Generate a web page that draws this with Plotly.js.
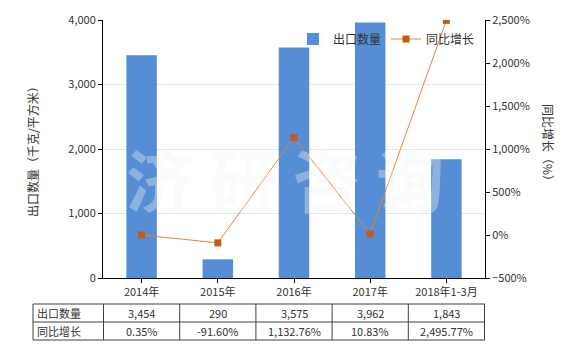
<!DOCTYPE html>
<html><head><meta charset="utf-8">
<script src="https://cdn.plot.ly/plotly-3.0.1.min.js"></script>
<style>html,body{margin:0;padding:0;background:#fff}#chart{width:580px;height:350px}</style>
</head><body><div id="chart"></div>
<script>
const categories = ['2014年','2015年','2016年','2017年','2018年1-3月'];
const exportQty = [3454, 290, 3575, 3962, 1843];
const yoyGrowth = [0.35, -91.60, 1132.76, 10.83, 2495.77];
const seriesNames = ['出口数量','同比增长'];
const leftTitle = '出口数量（千克/平方米）';
const rightTitle = '同比增长（%）';
const watermark = '济 研 咨 询';

const FONT = '"Noto Sans CJK SC", "Microsoft YaHei", sans-serif';
const txt = '#333333';
const border = '#404040';

const L = 103, R = 485, T = 20, B = 278;
const H = B - T, W = R - L;
const py = v => (B - v) / H;
const px = v => (v - L) / W;

const tTop = py(304), tMid = py(322), tBot = py(340);
const shapes = [];
const annotations = [];
[tTop, tMid, tBot].forEach(y => shapes.push({type:'line', xref:'paper', yref:'paper', x0:px(33), x1:1, y0:y, y1:y, line:{color:border,width:1}}));
shapes.push({type:'line', xref:'paper', yref:'paper', x0:px(33), x1:px(33), y0:tTop, y1:tBot, line:{color:border,width:1}});
for (let i = 0; i <= categories.length; i++) {
  shapes.push({type:'line', xref:'x', yref:'paper', x0:i-0.5, x1:i-0.5, y0:tTop, y1:tBot, line:{color:border,width:1}});
}
const rowY = [(tTop+tMid)/2, (tMid+tBot)/2];
seriesNames.forEach((n, r) => annotations.push({xref:'paper', yref:'paper', x:px(35), y:rowY[r], xanchor:'left', yanchor:'middle', text:n, showarrow:false, font:{size:11, color:txt}}));
categories.forEach((c, i) => {
  annotations.push({xref:'x', yref:'paper', x:i, y:rowY[0], text:exportQty[i].toLocaleString('en-US'), showarrow:false, yanchor:'middle', font:{size:11, color:txt}});
  annotations.push({xref:'x', yref:'paper', x:i, y:rowY[1], text:yoyGrowth[i].toLocaleString('en-US',{minimumFractionDigits:2, maximumFractionDigits:2})+'%', showarrow:false, yanchor:'middle', font:{size:11, color:txt}});
});
annotations.push({xref:'paper', yref:'paper', x:px(32), y:py(149), text:leftTitle, textangle:-90, showarrow:false, xanchor:'center', yanchor:'middle', font:{size:12, color:txt}});
annotations.push({xref:'paper', yref:'paper', x:px(549), y:py(145), text:rightTitle, textangle:90, showarrow:false, xanchor:'center', yanchor:'middle', font:{size:12, color:txt}});
annotations.push({xref:'paper', yref:'paper', x:px(285), y:py(177), text:watermark, showarrow:false, xanchor:'center', yanchor:'middle', font:{size:68, color:'rgba(240,245,245,0.36)', family:FONT, weight:'bold'}});

const data = [
  {type:'bar', x:categories, y:exportQty, name:seriesNames[0], marker:{color:'#558ed5'}, width:0.4, yaxis:'y'},
  {type:'scatter', mode:'lines+markers', x:categories, y:yoyGrowth, name:seriesNames[1], yaxis:'y2',
   line:{color:'#e8803a', width:1}, marker:{symbol:'square', size:7, color:'#c55a11'}}
];

const layout = {
  width:580, height:350,
  margin:{l:L, r:580-R, t:T, b:350-B, pad:0},
  paper_bgcolor:'#fff', plot_bgcolor:'#fff',
  font:{family:FONT, size:11, color:txt},
  showlegend:true,
  legend:{orientation:'h', x:px(293), y:py(39), xanchor:'left', yanchor:'middle', bgcolor:'rgba(0,0,0,0)', font:{size:12, color:txt}, itemwidth:30},
  xaxis:{type:'category', showline:true, linecolor:'#000', linewidth:1, ticks:'outside', ticklen:4, tickcolor:'#000', showgrid:false, tickfont:{size:11, color:txt}},
  yaxis:{range:[0,4000], dtick:1000, tickformat:',d', showline:true, linecolor:'#000', linewidth:1, ticks:'outside', ticklen:4, tickcolor:'#000', gridcolor:'#e6e6e6', zeroline:false, tickfont:{size:11, color:txt}},
  yaxis2:{overlaying:'y', side:'right', range:[-500,2500], dtick:500, tickformat:',d', ticksuffix:'%', showline:true, linecolor:'#000', linewidth:1, ticks:'outside', ticklen:4, tickcolor:'#000', showgrid:false, zeroline:false, tickfont:{size:11, color:txt}},
  shapes: shapes,
  annotations: annotations
};
Plotly.newPlot('chart', data, layout, {staticPlot:true, displayModeBar:false});
</script></body></html>
